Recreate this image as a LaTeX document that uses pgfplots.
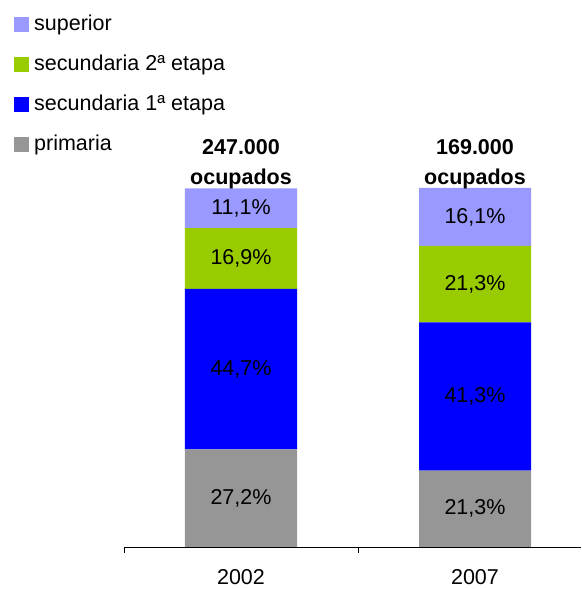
\documentclass[border=0pt]{standalone}
\usepackage{pgfplots}
\pgfplotsset{compat=1.18}
\usepackage{fontspec}
\setmainfont{Liberation Sans}
\definecolor{csup}{HTML}{9999FF}
\definecolor{csecb}{HTML}{99CC00}
\definecolor{cseca}{HTML}{0000FF}
\definecolor{cprim}{HTML}{969696}
\begin{document}
\fontsize{21.5}{29.5}\selectfont
\begin{tikzpicture}
\path[use as bounding box] (0,0) rectangle (581pt,589pt);
\begin{axis}[
  at={(124pt,42pt)}, anchor=south west,
  scale only axis, width=457pt, height=359pt,
  xmin=-0.5, xmax=1.453, ymin=0, ymax=100,
  ybar stacked, bar width=112pt,
  axis x line=bottom, axis y line=none,
  x axis line style={-, black, line width=0.8pt},
  xtick={0,1}, xticklabels={2002,2007},
  minor xtick={-0.5,0.5},
  major tick length=0pt, minor tick length=6pt, tick align=outside,
  tick style={black, line width=0.8pt},
  xticklabel style={inner sep=0pt, yshift=-22pt},
  reverse legend,
  legend cell align=left,
  legend style={draw=none, fill=none, at={(-0.2407,1.49)}, anchor=north west,
    row sep=15pt, column sep=3pt, inner sep=0pt,
    nodes={inner sep=2pt, text height=16pt, text depth=5pt}},
  legend image code/.code={\fill[#1] (0pt,-7.5pt) rectangle (15pt,7.5pt);},
]
\addplot[fill=cprim, draw=none] coordinates {(0,27.2) (1,21.3)};
\addplot[fill=cseca, draw=none] coordinates {(0,44.7) (1,41.3)};
\addplot[fill=csecb, draw=none] coordinates {(0,16.9) (1,21.3)};
\addplot[fill=csup, draw=none] coordinates {(0,11.1) (1,16.1)};
\legend{primaria, secundaria 1ª etapa, secundaria 2ª etapa, superior}
\end{axis}
\begin{axis}[
  at={(124pt,42pt)}, anchor=south west,
  scale only axis, width=457pt, height=359pt,
  xmin=-0.5, xmax=1.453, ymin=0, ymax=100,
  axis lines=none, clip=false,
]
\addplot[draw=none, mark=none, point meta=explicit,
  nodes near coords={\pgfmathprintnumber[fixed,fixed zerofill,precision=1,use comma,assume math mode=true]{\pgfplotspointmeta}\%},
  nodes near coords align=center,
  every node near coord/.append style={anchor=center, text=black}]
  coordinates {
  (0,13.6) [27.2] (1,10.65) [21.3]
  (0,49.55) [44.7] (1,41.95) [41.3]
  (0,80.35) [16.9] (1,73.25) [21.3]
  (0,94.35) [11.1] (1,91.95) [16.1]
  };
\addplot[draw=none, mark=none, point meta=explicit symbolic,
  nodes near coords={\pgfplotspointmeta\\ocupados},
  nodes near coords align=center,
  every node near coord/.append style={anchor=south, align=center, inner sep=0pt, font=\bfseries}]
  coordinates {(0,99.8) [247.000] (1,99.8) [169.000]};
\end{axis}
\end{tikzpicture}
\end{document}
